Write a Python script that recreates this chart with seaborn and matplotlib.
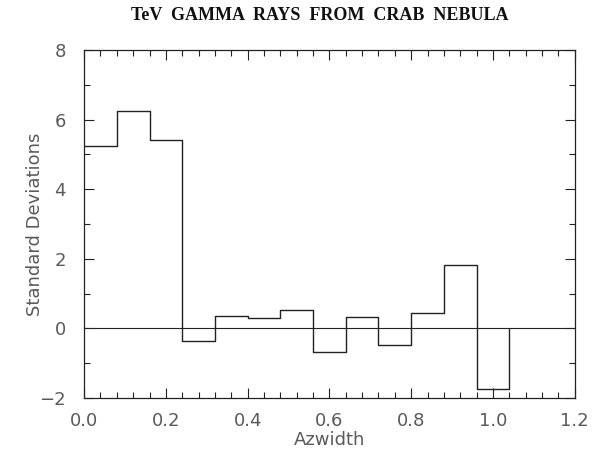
import numpy as np
import pandas as pd
import matplotlib
matplotlib.use("Agg")
import matplotlib.pyplot as plt
import seaborn as sns
from matplotlib.ticker import MultipleLocator

# Data
bin_edges = [0.00, 0.08, 0.16, 0.24, 0.32, 0.40, 0.48, 0.56, 0.64, 0.72, 0.80, 0.88, 0.96, 1.04]
std_devs = [5.25, 6.26, 5.42, -0.36, 0.36, 0.31, 0.54, -0.69, 0.33, -0.47, 0.45, 1.83, -1.74]
baseline = 0.0
x_ticks = [0.0, 0.2, 0.4, 0.6, 0.8, 1.0, 1.2]
y_ticks = [-2, 0, 2, 4, 6, 8]

sns.set_style("ticks")
plt.rcParams['font.family'] = ['DejaVu Sans']

df = pd.DataFrame({"Azwidth": bin_edges, "Standard Deviations": std_devs + [baseline]})

fig = plt.figure(figsize=(6.05, 4.51), dpi=100)
ax = fig.add_axes([0.139, 0.1175, 0.811, 0.7715])

line_col = "#222222"
text_col = "#5a5a5a"

sns.lineplot(data=df, x="Azwidth", y="Standard Deviations", ax=ax,
             drawstyle="steps-post", estimator=None, sort=False,
             color=line_col, linewidth=1.0)
ax.axhline(baseline, color=line_col, linewidth=0.8)

ax.set_xlim(0, 1.2)
ax.set_ylim(-2, 8)
ax.set_xticks(x_ticks)
ax.set_xticklabels([f"{v:.1f}" for v in x_ticks])
ax.set_yticks(y_ticks)
ax.set_yticklabels([str(v).replace("-", "\u2212") for v in y_ticks])
ax.xaxis.set_minor_locator(MultipleLocator(0.04))
ax.yaxis.set_minor_locator(MultipleLocator(1))
ax.tick_params(which="both", direction="in", top=True, right=True,
               colors=line_col, labelcolor=text_col, labelsize=13, width=0.8)
ax.tick_params(which="major", length=7)
ax.tick_params(which="minor", length=4)
ax.tick_params(axis="x", which="major", pad=10)
ax.tick_params(axis="y", which="major", pad=13)
for s in ax.spines.values():
    s.set_visible(True)
    s.set_linewidth(0.9)
    s.set_color(line_col)

ax.set_xlabel("Azwidth", fontsize=13, color=text_col, labelpad=1)
ax.set_ylabel("Standard Deviations", fontsize=13, color=text_col, labelpad=-3)

fig.text(0.529, 0.965, "TeV  GAMMA  RAYS  FROM  CRAB  NEBULA", ha="center", va="center",
         fontsize=13, fontweight="bold", family=["Liberation Serif"], color="#111111")

fig.savefig("out.png", dpi=100, facecolor="white")
